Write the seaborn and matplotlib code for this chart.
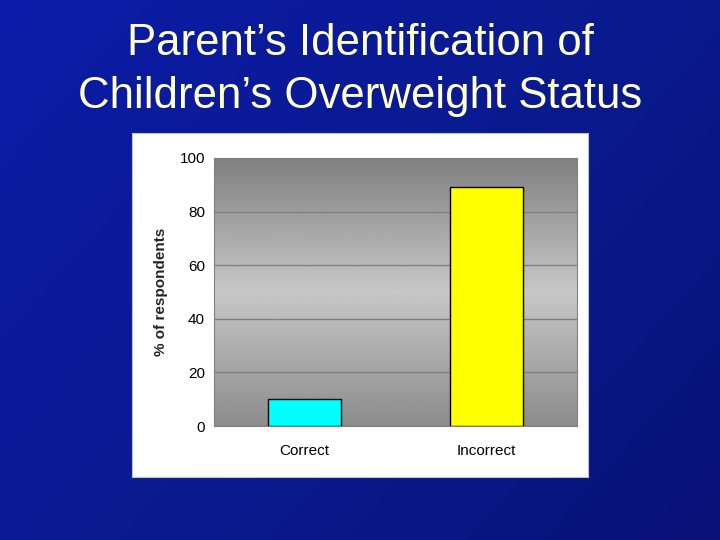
import numpy as np
import pandas as pd
import matplotlib
matplotlib.use("Agg")
import matplotlib.pyplot as plt
import seaborn as sns

# data
answers = ["Correct", "Incorrect"]
percent = [10, 89]
bar_colors = ["#00ffff", "#ffff00"]

df = pd.DataFrame({"answer": answers, "percent": percent})

sns.set_style("white")
plt.rcParams["font.family"] = ["Liberation Sans", "DejaVu Sans"]

fig = plt.figure(figsize=(7.2, 5.4), dpi=100)

# slide background: dark blue gradient
bg = fig.add_axes([0, 0, 1, 1], zorder=-2)
grad = np.linspace(0, 1, 256)
gx, gy = np.meshgrid(grad, grad)
bg.imshow(0.6 * gx + 0.4 * gy, cmap=matplotlib.colors.LinearSegmentedColormap.from_list(
    "slide", ["#0c1ca8", "#0a1a90", "#081278"]), aspect="auto", extent=[0, 1, 0, 1])
bg.axis("off")

fig.text(0.5, 0.92, "Parent\u2019s Identification of", ha="center", va="center",
         fontsize=31.5, color="#ffffcc")
fig.text(0.5, 0.822, "Children\u2019s Overweight Status", ha="center", va="center",
         fontsize=31.5, color="#ffffcc")

# white panel behind the chart
panel = fig.add_axes([132 / 720, 1 - 477 / 540, 456 / 720, 344 / 540], zorder=-1)
panel.set_facecolor("white")
panel.set_xticks([])
panel.set_yticks([])
for s in panel.spines.values():
    s.set_color("#c0c0c0")

ax = fig.add_axes([214 / 720, 1 - 426 / 540, 363 / 720, 268 / 540])
shade = np.concatenate([np.linspace(0.5, 0.78, 128), np.linspace(0.78, 0.55, 128)])
ax.imshow(shade[:, None], cmap="gray", vmin=0, vmax=1, aspect="auto",
          extent=[-0.5, 1.5, 0, 100], zorder=0)

sns.barplot(data=df, x="answer", y="percent", hue="answer", palette=bar_colors,
            saturation=1, width=0.4, edgecolor="black", linewidth=1, legend=False,
            ax=ax, zorder=3)

ax.set_xlim(-0.5, 1.5)
ax.set_ylim(0, 100)
ax.set_yticks(range(0, 101, 20))
ax.yaxis.grid(True, color="#808080", linewidth=1, zorder=1)
ax.set_axisbelow(True)
ax.tick_params(labelsize=11, colors="black", length=3)
ax.tick_params(axis="x", pad=10)
ax.set_xlabel("")
ax.set_ylabel("% of respondents", fontsize=11, fontweight="bold", labelpad=8)
for s in ax.spines.values():
    s.set_color("#808080")

fig.savefig("out.png", dpi=100)
